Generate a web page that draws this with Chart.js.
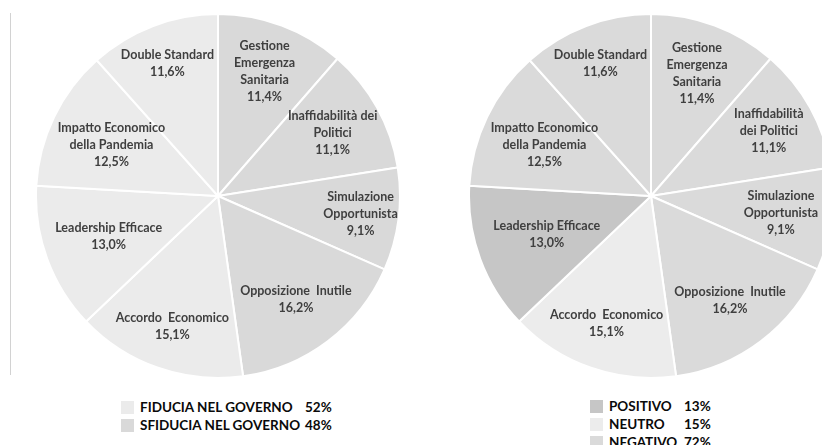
<!DOCTYPE html>
<html lang="it">
<head>
  <meta charset="UTF-8" />
  <title>Fiducia nel governo</title>
  <script src="https://cdn.jsdelivr.net/npm/chart.js"></script>
  <style>
    body {
      margin: 0;
      width: 822px;
      height: 445px;
      overflow: hidden;
      background: #fff;
      font-family: Lato, "Open Sans", sans-serif;
      position: relative;
    }
    .vline {
      position: absolute;
      left: 10px;
      top: 13px;
      width: 1px;
      height: 362px;
      background: #d2d2d2;
    }
    .pie {
      position: absolute;
      top: 13px;
      width: 366px;
      height: 366px;
    }
    #leftBox { left: 35px; }
    #rightBox { left: 468px; }
    .legend {
      position: absolute;
      font-weight: bold;
      font-size: 13.5px;
      color: #0a0a0a;
    }
    .legend .row {
      display: flex;
      align-items: center;
      height: 18px;
    }
    .legend .sw {
      width: 13px;
      height: 13px;
      margin-right: 6px;
    }
    #leftLegend { left: 121px; top: 398px; }
    #leftLegend .name { width: 165px; }
    #rightLegend { left: 590px; top: 397px; }
    #rightLegend .name { width: 75px; }
  </style>
</head>
<body>
  <div class="vline"></div>
  <div class="pie" id="leftBox"><canvas id="leftPie"></canvas></div>
  <div class="pie" id="rightBox"><canvas id="rightPie"></canvas></div>
  <div class="legend" id="leftLegend"></div>
  <div class="legend" id="rightLegend"></div>

  <script>
    // categories, clockwise from 12 o'clock
    const categories = [
      'Gestione Emergenza Sanitaria',
      'Inaffidabilità dei Politici',
      'Simulazione Opportunista',
      'Opposizione Inutile',
      'Accordo Economico',
      'Leadership Efficace',
      'Impatto Economico della Pandemia',
      'Double Standard'
    ];
    const shares = [11.4, 11.1, 9.1, 16.2, 15.1, 13.0, 12.5, 11.6];

    // label line breaks as they appear in each chart
    const leftLines = [
      ['Gestione', 'Emergenza', 'Sanitaria'],
      ['Inaffidabilità dei', 'Politici'],
      ['Simulazione', 'Opportunista'],
      ['Opposizione  Inutile'],
      ['Accordo  Economico'],
      ['Leadership Efficace'],
      ['Impatto Economico', 'della Pandemia'],
      ['Double Standard']
    ];
    const rightLines = [
      ['Gestione', 'Emergenza', 'Sanitaria'],
      ['Inaffidabilità', 'dei Politici'],
      ['Simulazione', 'Opportunista'],
      ['Opposizione  Inutile'],
      ['Accordo  Economico'],
      ['Leadership Efficace'],
      ['Impatto Economico', 'della Pandemia'],
      ['Double Standard']
    ];

    // group membership per slice
    const trustGroup = ['sfiducia', 'sfiducia', 'sfiducia', 'sfiducia', 'fiducia', 'fiducia', 'fiducia', 'fiducia'];
    const toneGroup = ['negativo', 'negativo', 'negativo', 'negativo', 'neutro', 'positivo', 'negativo', 'negativo'];

    const trustLegend = ['FIDUCIA NEL GOVERNO', 'SFIDUCIA NEL GOVERNO'];
    const trustValues = [52, 48];
    const toneLegend = ['POSITIVO', 'NEUTRO', 'NEGATIVO'];
    const toneValues = [13, 15, 72];

    const trustColors = { fiducia: '#ebebeb', sfiducia: '#d9d9d9' };
    const toneColors = { positivo: '#c6c6c6', neutro: '#ececec', negativo: '#dadada' };

    // how far out (fraction of radius) each label sits
    const leftRadius = [0.73, 0.72, 0.79, 0.71, 0.76, 0.64, 0.65, 0.78];
    const rightRadius = [0.72, 0.74, 0.72, 0.72, 0.74, 0.61, 0.65, 0.78];

    const fmt = v => v.toFixed(1).replace('.', ',') + '%';

    const sliceLabels = {
      id: 'sliceLabels',
      afterDatasetsDraw(chart, args, opts) {
        const ctx = chart.ctx;
        const meta = chart.getDatasetMeta(0);
        ctx.save();
        ctx.font = 'bold 12.5px Lato, "Open Sans", sans-serif';
        ctx.fillStyle = '#3f3f3f';
        ctx.textAlign = 'center';
        ctx.textBaseline = 'middle';
        meta.data.forEach((arc, i) => {
          const p = arc.getProps(['x', 'y', 'startAngle', 'endAngle', 'outerRadius'], true);
          const mid = (p.startAngle + p.endAngle) / 2;
          const r = p.outerRadius * opts.radius[i];
          const cx = p.x + Math.cos(mid) * r;
          const cy = p.y + Math.sin(mid) * r;
          const lines = opts.lines[i].concat([fmt(shares[i])]);
          const lh = 17;
          const top = cy - (lines.length - 1) * lh / 2;
          lines.forEach((t, k) => ctx.fillText(t, cx, top + k * lh));
        });
        ctx.restore();
      }
    };

    function makePie(id, colors, lines, radius) {
      return new Chart(document.getElementById(id), {
        type: 'pie',
        data: {
          labels: categories,
          datasets: [{
            data: shares,
            backgroundColor: colors,
            borderColor: '#ffffff',
            borderWidth: 2
          }]
        },
        options: {
          responsive: true,
          maintainAspectRatio: false,
          animation: false,
          layout: { padding: 0 },
          plugins: {
            legend: { display: false },
            tooltip: { enabled: false },
            sliceLabels: { lines: lines, radius: radius }
          }
        },
        plugins: [sliceLabels]
      });
    }

    makePie('leftPie', trustGroup.map(g => trustColors[g]), leftLines, leftRadius);
    makePie('rightPie', toneGroup.map(g => toneColors[g]), rightLines, rightRadius);

    function buildLegend(el, names, values, colors) {
      names.forEach((n, i) => {
        const row = document.createElement('div');
        row.className = 'row';
        row.innerHTML = '<span class="sw" style="background:' + colors[i] + '"></span>' +
          '<span class="name">' + n + '</span><span>' + values[i] + '%</span>';
        el.appendChild(row);
      });
    }
    buildLegend(document.getElementById('leftLegend'), trustLegend, trustValues,
      [trustColors.fiducia, trustColors.sfiducia]);
    buildLegend(document.getElementById('rightLegend'), toneLegend, toneValues,
      [toneColors.positivo, toneColors.neutro, toneColors.negativo]);
  </script>
</body>
</html>
